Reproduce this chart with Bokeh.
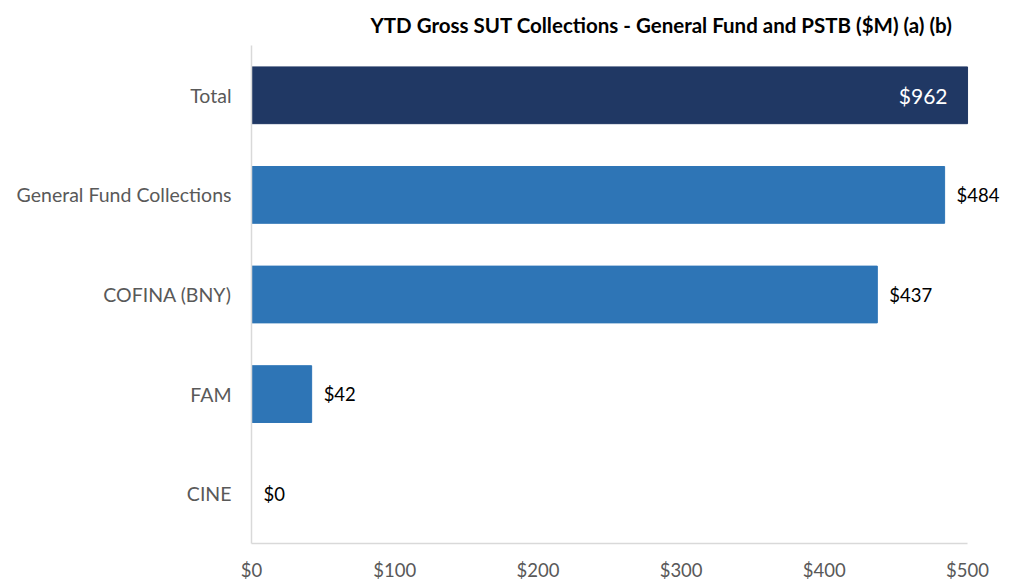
from bokeh.plotting import figure
from bokeh.models import ColumnDataSource, FactorRange, Range1d, LabelSet, NumeralTickFormatter, Title, FixedTicker
from bokeh.core.properties import value
from bokeh.embed import file_html
from bokeh.resources import INLINE

categories = ["Total", "General Fund Collections", "COFINA (BNY)", "FAM", "CINE"]
values = [962, 484, 437, 42, 0]
colors = ["#203864", "#2E75B6", "#2E75B6", "#2E75B6", "#2E75B6"]
x_ticks = [0, 100, 200, 300, 400, 500]
x_max = 500      # axis end; longer bars are cut here
x_view = 530     # visible room for outside labels

labels = ["$%d" % v for v in values]
inside = [v > x_max for v in values]
shown = [min(v, x_max) for v in values]

src = ColumnDataSource(dict(cat=categories, val=shown, color=colors))
src_out = ColumnDataSource(dict(
    cat=[c for c, i in zip(categories, inside) if not i],
    x=[v for v, i in zip(shown, inside) if not i],
    lab=[l for l, i in zip(labels, inside) if not i],
))
src_in = ColumnDataSource(dict(
    cat=[c for c, i in zip(categories, inside) if i],
    x=[v for v, i in zip(shown, inside) if i],
    lab=[l for l, i in zip(labels, inside) if i],
))

FONT = "Lato"

p = figure(frame_width=759, frame_height=498, output_backend="svg", toolbar_location=None,
           y_range=FactorRange(*reversed(categories), range_padding=0),
           x_range=Range1d(0, x_view),
           min_border_left=251, min_border_right=0, min_border_top=45, min_border_bottom=0)
p.title = Title(text="YTD Gross SUT Collections - General Fund and PSTB ($M) (a) (b)",
                align="left", offset=119, text_font=FONT, text_font_size="20.5px",
                text_font_style="bold", text_color="#000000", standoff=17)

p.hbar(y="cat", right="val", left=0, height=0.57, color="color", source=src)

p.add_layout(LabelSet(x="x", y="cat", text="lab", source=src_out, x_offset=12,
                      text_align="left", text_baseline="middle", text_font=value(FONT),
                      text_font_size="18.5px", text_color="#000000"))
p.add_layout(LabelSet(x="x", y="cat", text="lab", source=src_in, x_offset=-20,
                      text_align="right", text_baseline="middle", text_font=value(FONT),
                      text_font_size="21px", text_color="#FFFFFF"))

p.xgrid.grid_line_color = None
p.ygrid.grid_line_color = None
p.outline_line_color = None

p.xaxis.ticker = FixedTicker(ticks=x_ticks)
p.xaxis.bounds = (0, x_max)
p.xaxis.formatter = NumeralTickFormatter(format="$0")
for ax in (p.xaxis, p.yaxis):
    ax.axis_line_color = "#D9D9D9"
    ax.axis_line_width = 1.5
    ax.major_tick_line_color = None
    ax.minor_tick_line_color = None
    ax.major_label_text_font = FONT
    ax.major_label_text_color = "#595959"
p.xaxis.major_label_text_font_size = "18.5px"
p.yaxis.major_label_text_font_size = "19.5px"
p.xaxis.major_label_standoff = 9
p.yaxis.major_label_standoff = 14

open("out.html", "w").write(file_html(p, INLINE))
